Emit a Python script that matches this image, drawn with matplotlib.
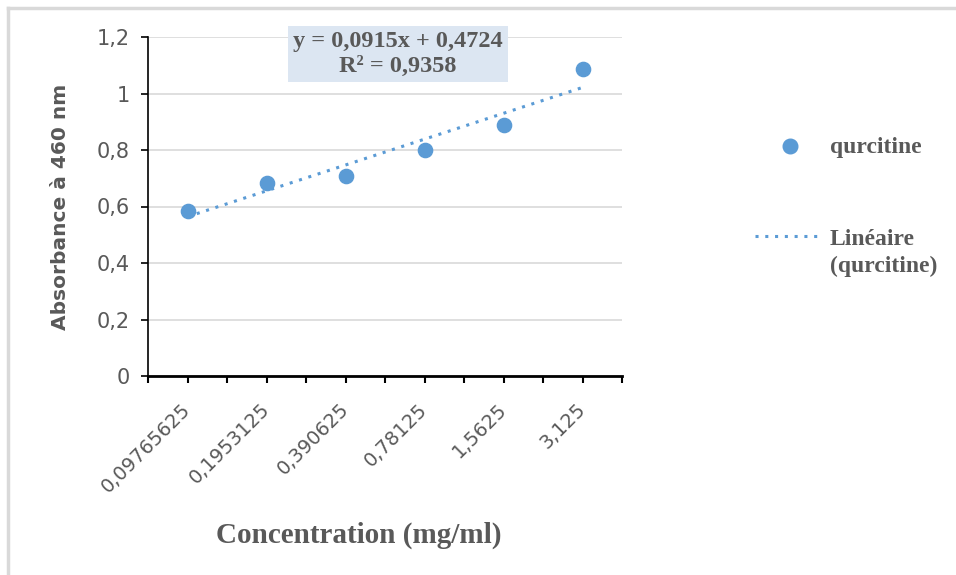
import matplotlib
matplotlib.use("Agg")
import matplotlib.pyplot as plt
from matplotlib.lines import Line2D
import numpy as np

categories = ["0,09765625", "0,1953125", "0,390625", "0,78125", "1,5625", "3,125"]
absorbance = [0.584, 0.683, 0.708, 0.800, 0.888, 1.087]
slope = 0.0915
intercept = 0.4724
r2 = 0.9358
yticks = [0, 0.2, 0.4, 0.6, 0.8, 1.0, 1.2]
ytick_labels = ["0", "0,2", "0,4", "0,6", "0,8", "1", "1,2"]

blue = "#5B9BD5"
gray = "#595959"

fig = plt.figure(figsize=(9.56, 5.75), dpi=100)
W, H = 956, 575
ax = fig.add_axes([148 / W, 1 - 376 / H, 474 / W, 339 / H])

x = np.arange(1, len(categories) + 1)
ax.scatter(x, absorbance, s=105, color=blue, zorder=3, label="qurcitine")
xt = np.array([x[0], x[-1]])
ax.plot(xt, slope * xt + intercept, linestyle=(0, (1, 2.2)), color=blue, lw=2.2,
        zorder=2, label="Linéaire\n(qurcitine)")

ax.set_xlim(0.5, len(categories) + 0.5)
ax.set_ylim(0, 1.2)
ax.set_yticks(yticks)
ax.set_yticklabels(ytick_labels, fontsize=15, color=gray, family="DejaVu Sans")
ax.set_xticks(x)
ax.set_xticks(np.arange(0.5, len(categories) + 1, 1.0), minor=True)
ax.set_xticklabels(categories, rotation=45, ha="right", va="center",
                   rotation_mode="anchor", fontsize=14, color=gray, family="DejaVu Sans")
ax.tick_params(axis="x", which="both", direction="out", length=5, width=1.5, color="black", pad=17)
ax.tick_params(axis="y", direction="out", length=5, width=1.2, color="black", pad=8)
ax.grid(axis="y", color="#D9D9D9", lw=1.2)
ax.set_axisbelow(True)
for s in ["top", "right"]:
    ax.spines[s].set_visible(False)
ax.spines["left"].set_linewidth(1.2)
ax.spines["bottom"].set_linewidth(2)

ax.set_ylabel("Absorbance à 460 nm", fontsize=14.5, fontweight="bold", color=gray,
              family="DejaVu Sans", labelpad=19)
fig.text(359 / W, 1 - 535 / H, "Concentration (mg/ml)", fontsize=21, fontweight="bold",
         color=gray, family="Liberation Serif", ha="center", va="center")

fig.text(398 / W, 1 - 54 / H, f"y = {slope:.4f}x + {intercept:.4f}".replace(".", ",")
         + "\n" + f"R² = {r2:.4f}".replace(".", ","),
         ha="center", va="center", fontsize=17.5, fontweight="bold", color=gray,
         family="Liberation Serif", linespacing=1.3,
         bbox=dict(boxstyle="square,pad=0.2", fc="#DCE6F2", ec="none"))

# legend
fig.add_artist(Line2D([790 / W], [1 - 146 / H], marker="o", ls="none", color=blue,
                      markersize=10.5))
fig.add_artist(Line2D([755 / W, 818 / W], [1 - 236 / H, 1 - 236 / H],
                      ls=(0, (1, 2.2)), color=blue, lw=2.2))
fig.text(830 / W, 1 - 148 / H, "qurcitine", fontsize=17, fontweight="bold", color=gray,
         family="Liberation Serif", ha="left", va="center")
fig.text(830 / W, 1 - 229 / H, "Linéaire\n(qurcitine)", fontsize=17, fontweight="bold",
         color=gray, family="Liberation Serif", ha="left", va="top", linespacing=1.35)

fig.add_artist(Line2D([8 / W, 1], [1 - 8 / H, 1 - 8 / H], color="#D9D9D9", lw=2.5))
fig.add_artist(Line2D([8 / W, 8 / W], [1 - 8 / H, 1 - 573 / H], color="#D9D9D9", lw=2.5))

fig.savefig("out.png", dpi=100)
